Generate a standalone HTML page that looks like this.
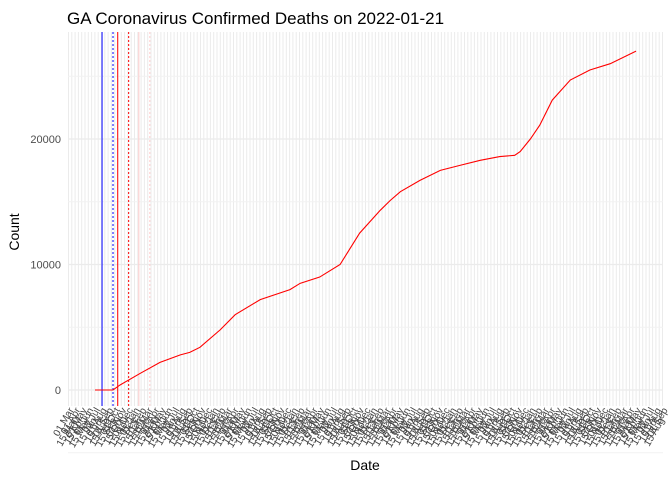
<!DOCTYPE html>
<html><head><meta charset="utf-8"><style>
body{margin:0;background:#fff;font-family:"Liberation Sans",sans-serif}
</style></head><body>
<svg id="c" width="672" height="480" xmlns="http://www.w3.org/2000/svg">
<text x="67" y="24" font-size="17" fill="#000">GA Coronavirus Confirmed Deaths on 2022-01-21</text>
<text x="365" y="470" font-size="14" text-anchor="middle">Date</text>
<text transform="translate(19,232) rotate(-90)" font-size="14" text-anchor="middle">Count</text>
<g id="grid"></g><g id="vl"></g><g id="yt"></g><g id="xt"></g><path id="ln" fill="none" stroke="#f00" stroke-width="1.1"/>
</svg>
<script>
const days=[0,23,32,57,83,109,121,134,160,179,211,249,262,287,313,338,364,377,390,415,441,466,492,517,536,543,556,568,584,607,632,658,691];
const deaths=[0,0,400,1300,2200,2800,3000,3400,4800,6000,7200,8000,8500,9000,10000,12500,14300,15100,15800,16700,17500,17900,18300,18600,18700,19000,20000,21100,23100,24700,25500,26000,27000];
const yTicks=[0,10000,20000];
const markerDays=[9,23,29,43,56,70];
const markerStyles=[["#00f",""],["#00f","2,2"],["#f00",""],["#f00","2,2"],["#fcc",""],["#fcc","2,2"]];
const monthLabels=["01 Mar","15 Mar","01 Apr","15 Apr","01 May","15 May","01 Jun","15 Jun","01 Jul","15 Jul","01 Aug","15 Aug","01 Sep","15 Sep","01 Oct","15 Oct","01 Nov","15 Nov","01 Dec","15 Dec","01 Jan","15 Jan","01 Feb","15 Feb"];
const X=d=>95+d*0.783, Y=v=>390-v*0.01255;
const ns="http://www.w3.org/2000/svg";
function mk(p,t,a){const e=document.createElementNS(ns,t);for(const k in a)e.setAttribute(k,a[k]);document.getElementById(p).appendChild(e);return e;}
for(let x=68.5;x<=663;x+=3.3){const e=mk('grid','line',{x1:x,x2:x,y1:32,y2:406,stroke:'#ebebeb','stroke-width':1});

}
[-5000,5000,15000,25000].forEach(v=>{const e=mk('grid','line',{x1:68,x2:663,y1:Y(v),y2:Y(v),stroke:'#f2f2f2'});

});
yTicks.forEach(v=>{const e=mk('grid','line',{x1:68,x2:663,y1:Y(v),y2:Y(v),stroke:'#ebebeb','stroke-width':1.2});


const t=mk('yt','text',{x:61,y:Y(v)+4,'font-size':11,fill:'#4d4d4d','text-anchor':'end'});t.textContent=v;

});
markerDays.forEach((d,i)=>{const e=mk('vl','line',{x1:X(d),x2:X(d),y1:32,y2:406,stroke:markerStyles[i][0],'stroke-dasharray':markerStyles[i][1]});

});
let k=0;for(let x=74;x<=668;x+=3.3,k++){const yy=410+(k%2)*10;const t=mk('xt','text',{transform:`translate(${x},${yy}) rotate(-60)`,'font-size':10,fill:'#444','text-anchor':'end'});t.textContent=monthLabels[k%monthLabels.length];

}
document.getElementById('ln').setAttribute('d',days.map((d,i)=>(i?'L':'M')+X(d)+','+Y(deaths[i])).join(''));
</script>
</body></html>
